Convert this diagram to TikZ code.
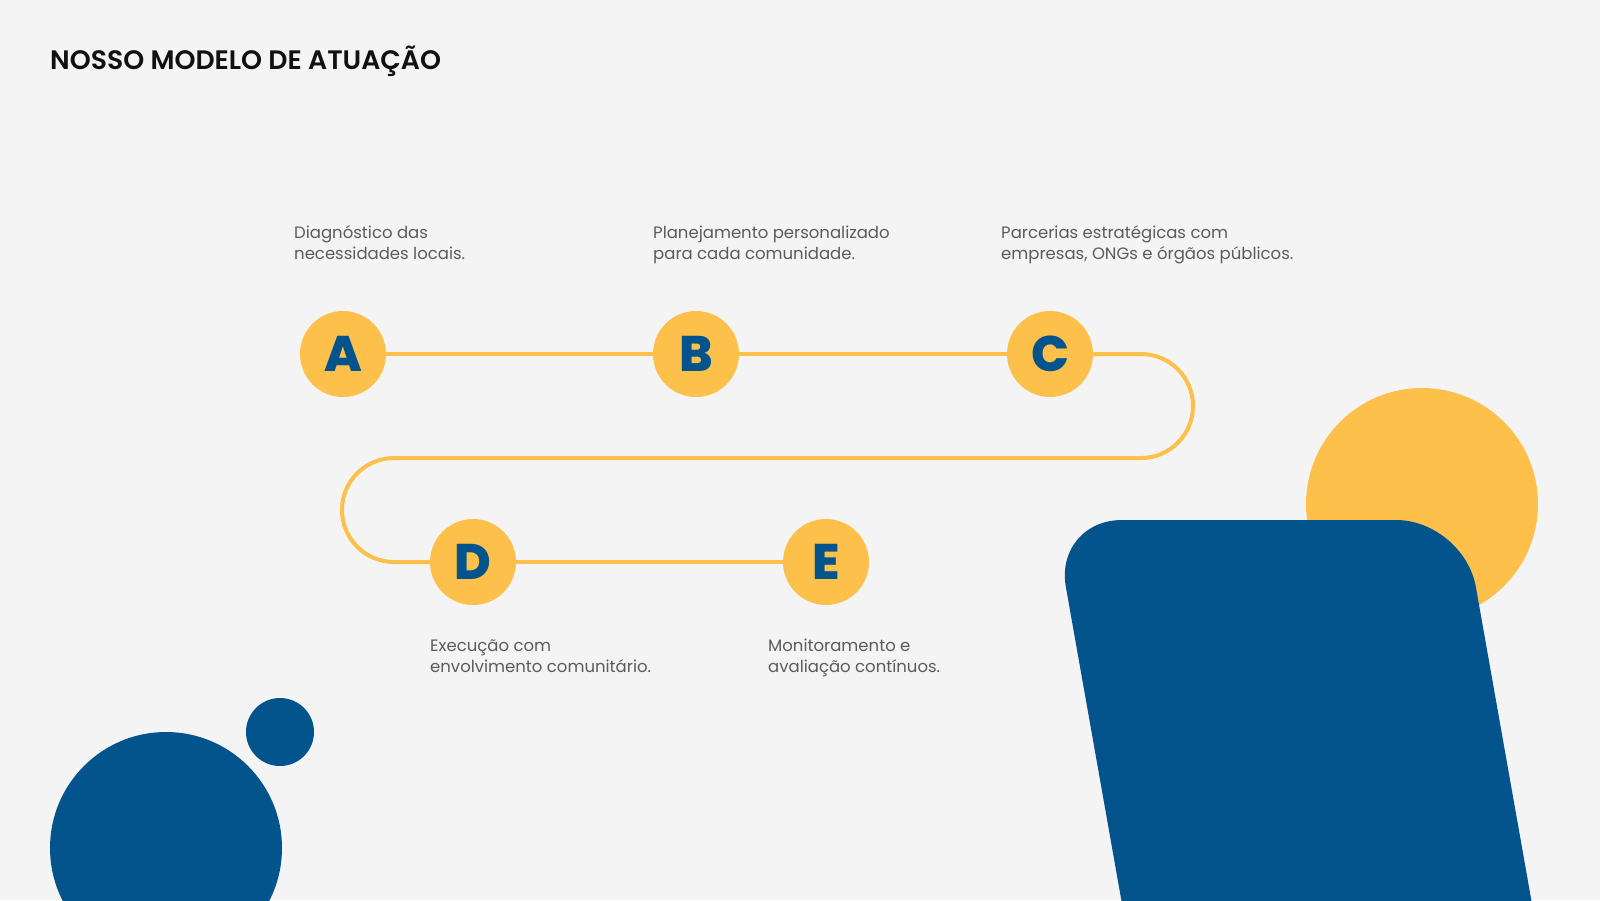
\documentclass[tikz,border=0pt]{standalone}
\usepackage{fontspec}
\setmainfont{Poppins}
\IfFontExistsTF{Poppins ExtraBold}{\newfontfamily\letterfont{Poppins ExtraBold}}{\newfontfamily\letterfont{Poppins}[UprightFont=* Bold]}
\IfFontExistsTF{Poppins SemiBold}{\newfontfamily\titlefont{Poppins SemiBold}}{\newfontfamily\titlefont{Poppins}[UprightFont=* Bold]}
\definecolor{bg}{HTML}{F4F4F4}
\definecolor{ylw}{HTML}{FDC14B}
\definecolor{blu}{HTML}{03548C}
\definecolor{txtgray}{HTML}{5B5B5B}
\definecolor{ttl}{HTML}{111111}
\begin{document}
\begin{tikzpicture}[x=1pt,y=-1pt,
  stepdot/.style={circle,fill=ylw,minimum size=86pt,inner sep=0pt,text=blu,font=\letterfont\fontsize{50}{50}\selectfont},
  desc/.style={anchor=base west,inner sep=0pt,text=txtgray,font=\fontsize{16.5}{21.5}\selectfont},
  route/.style={draw=ylw,line width=4pt}]
\fill[bg] (0,0) rectangle (1600,900);
\clip (0,0) rectangle (1600,900);
% decorative shapes
\fill[ylw] (1422,504) circle[radius=116];
\fill[blu,rounded corners=68pt] (1139,1000) -- (1054,520) -- (1464,520) -- (1549,1000) -- cycle;
\fill[blu] (166,848) circle[radius=116];
\fill[blu] (280,732) circle[radius=34];
% title
\node[anchor=base west,inner sep=0pt,text=ttl,font=\titlefont\fontsize{26.7}{26.7}\selectfont] (title) at (50,69) {NOSSO MODELO DE ATUAÇÃO};
% steps
\node[stepdot] (A) at (343,354) {A};
\node[stepdot] (B) at (696,354) {B};
\node[stepdot] (C) at (1050,354) {C};
\node[stepdot] (D) at (473,562) {D};
\node[stepdot] (E) at (826,562) {E};
\coordinate (r1) at (1193,354);
\coordinate (r2) at (1193,458);
\coordinate (l1) at (342,458);
\coordinate (l2) at (342,562);
\draw[route] (A.east) -- (B.west);
\draw[route] (B.east) -- (C.west);
\draw[route,rounded corners=52pt] (C.east) -- (r1) -- (r2) -- (l1) -- (l2) -- (D.west);
\draw[route] (D.east) -- (E.west);
% descriptions
\node[desc] (tA) at (294,238) {\begin{tabular}[t]{@{}l@{}}Diagnóstico das\\necessidades locais.\end{tabular}};
\node[desc] (tB) at (653,238) {\begin{tabular}[t]{@{}l@{}}Planejamento personalizado\\para cada comunidade.\end{tabular}};
\node[desc] (tC) at (1001,238) {\begin{tabular}[t]{@{}l@{}}Parcerias estratégicas com\\empresas, ONGs e órgãos públicos.\end{tabular}};
\node[desc] (tD) at (430,651) {\begin{tabular}[t]{@{}l@{}}Execução com\\envolvimento comunitário.\end{tabular}};
\node[desc] (tE) at (768,651) {\begin{tabular}[t]{@{}l@{}}Monitoramento e\\avaliação contínuos.\end{tabular}};
\end{tikzpicture}
\end{document}
